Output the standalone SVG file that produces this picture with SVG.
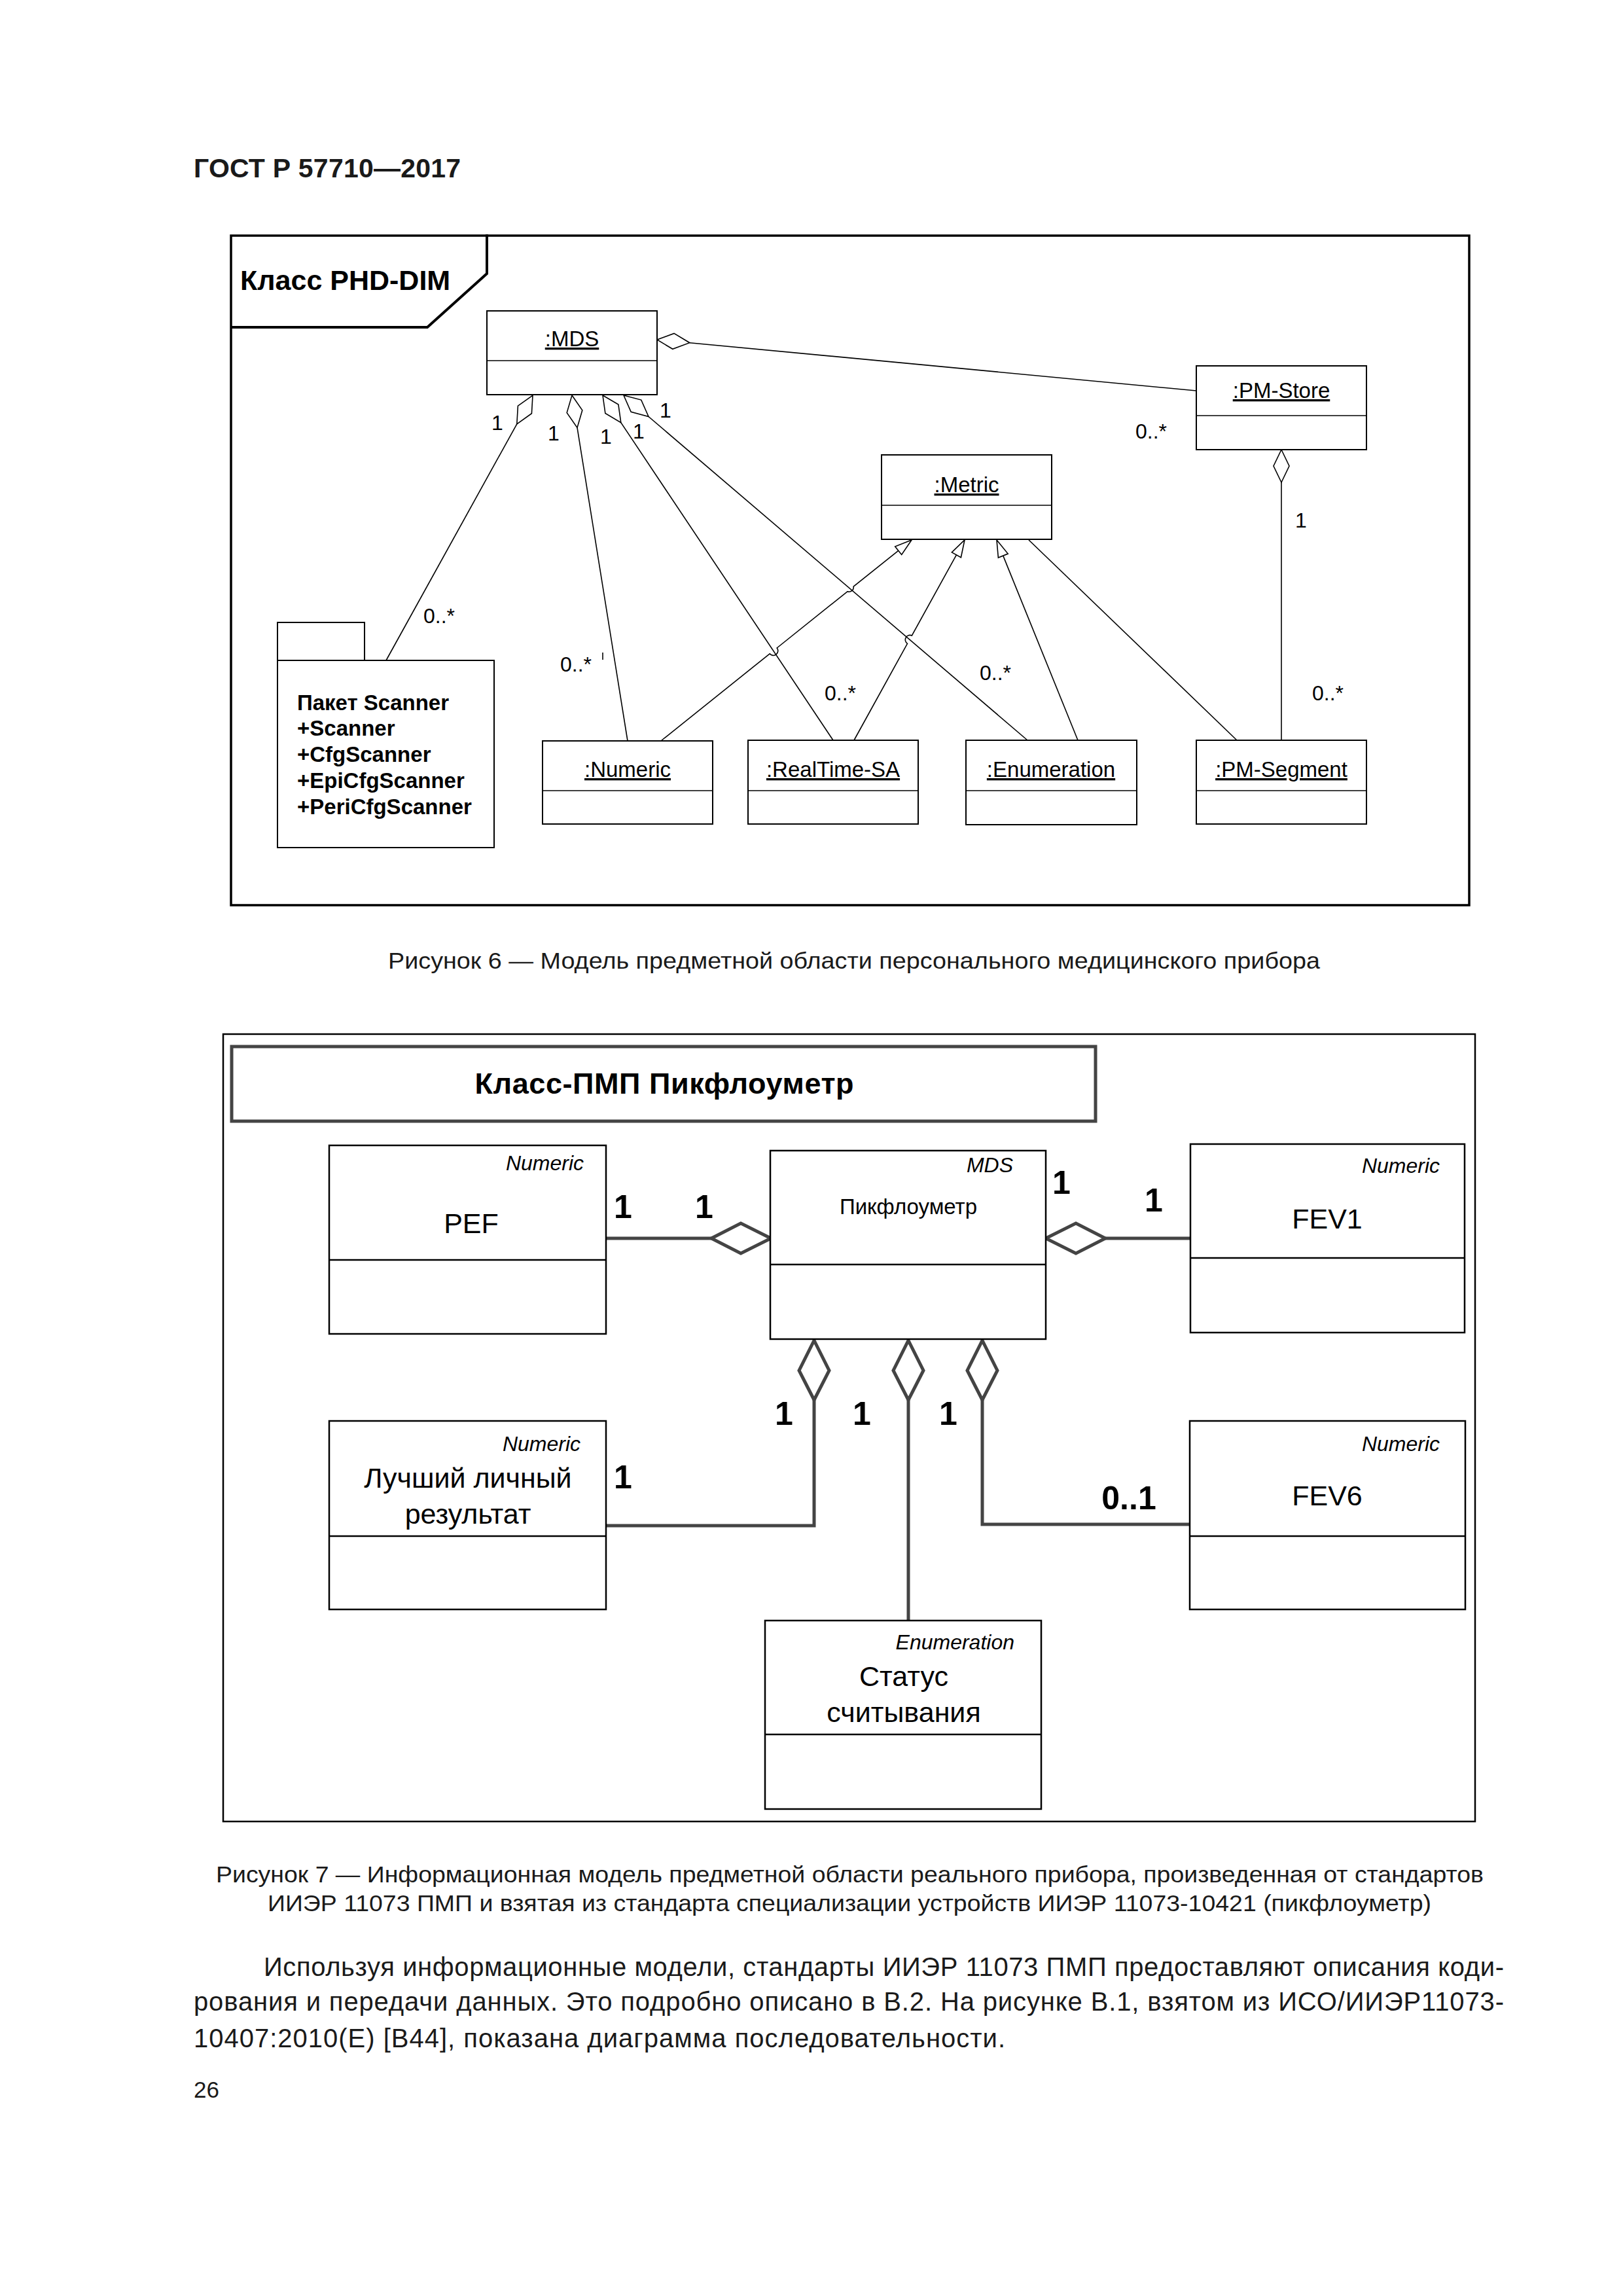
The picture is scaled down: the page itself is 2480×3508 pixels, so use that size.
<svg xmlns="http://www.w3.org/2000/svg" width="2480" height="3508" viewBox="0 0 2480 3508">
<style>
.pg{font-family:"Liberation Sans",Arial,sans-serif;fill:#1a1a1a}
.t1{font-family:"Liberation Sans",Arial,sans-serif;font-size:32px;fill:#000}
.cls{font-family:"Liberation Sans",Arial,sans-serif;font-size:33px;fill:#000;text-anchor:middle;text-decoration:underline}
.pk{font-family:"Liberation Sans",Arial,sans-serif;font-size:33px;font-weight:bold;fill:#000}
.box1{fill:#fff;stroke:#000;stroke-width:2}
.ln1{fill:none;stroke:#000;stroke-width:1.6}
.dia1{fill:#fff;stroke:#000;stroke-width:1.6}
.box2{fill:#fff;stroke:#000;stroke-width:2.5}
.ln2{fill:none;stroke:#444;stroke-width:5}
.dia2{fill:#fff;stroke:#444;stroke-width:5;stroke-linejoin:miter}
.st{font-family:"Liberation Sans",Arial,sans-serif;font-size:32px;font-style:italic;fill:#000;text-anchor:end}
.nm{font-family:"Liberation Sans",Arial,sans-serif;font-size:43px;fill:#000;text-anchor:middle}
.m2{font-family:"Liberation Sans",Arial,sans-serif;font-size:50px;font-weight:bold;fill:#000;text-anchor:middle}
</style>
<rect x="0" y="0" width="2480" height="3508" fill="#fff"/>

<!-- page texts -->
<text class="pg" x="296" y="271" font-size="41" font-weight="bold" textLength="408">ГОСТ Р 57710—2017</text>
<text class="pg" x="1305" y="1480" font-size="35" text-anchor="middle" textLength="1424" lengthAdjust="spacingAndGlyphs">Рисунок 6 — Модель предметной области персонального медицинского прибора</text>
<text class="pg" x="330" y="2876" font-size="35" textLength="1937" lengthAdjust="spacingAndGlyphs">Рисунок 7 — Информационная модель предметной области реального прибора, произведенная от стандартов</text>
<text class="pg" x="409" y="2920" font-size="35" textLength="1778" lengthAdjust="spacingAndGlyphs">ИИЭР 11073 ПМП и взятая из стандарта специализации устройств ИИЭР 11073-10421 (пикфлоуметр)</text>
<text class="pg" x="403" y="3019" font-size="40" textLength="1895">Используя информационные модели, стандарты ИИЭР 11073 ПМП предоставляют описания коди-</text>
<text class="pg" x="296" y="3072" font-size="40" textLength="2002">рования и передачи данных. Это подробно описано в В.2. На рисунке В.1, взятом из ИСО/ИИЭР11073-</text>
<text class="pg" x="296" y="3128" font-size="40" textLength="1240">10407:2010(E) [B44], показана диаграмма последовательности.</text>
<text class="pg" x="296" y="3205" font-size="35">26</text>

<!-- ===== Figure 6 ===== -->
<g id="fig6-frame">
<rect x="353" y="360" width="1892" height="1023" fill="none" stroke="#000" stroke-width="3.5"/>
<polyline points="353,500 653,500 744,418 744,358" fill="none" stroke="#000" stroke-width="4"/>
<text x="367" y="443" font-family="'Liberation Sans',Arial,sans-serif" font-size="43" font-weight="bold" fill="#000">Класс PHD-DIM</text>
</g>

<g id="fig6-connectors">
<!-- MDS - PM-Store -->
<polygon class="dia1" points="1004,519 1030,509.4 1053.8,523.7 1027.8,533.3"/>
<line class="ln1" x1="1053.8" y1="523.7" x2="1828" y2="597"/>
<!-- MDS - package -->
<polygon class="dia1" points="814,604 812.4,631.7 789.8,647.8 791.4,620.1"/>
<line class="ln1" x1="789.8" y1="647.8" x2="590" y2="1009"/>
<!-- MDS - Numeric -->
<polygon class="dia1" points="874,604 889.8,626.8 882,653.4 866.2,630.6"/>
<line class="ln1" x1="882" y1="653.4" x2="959" y2="1132"/>
<!-- MDS - RealTime-SA -->
<polygon class="dia1" points="921,604 944.9,618.1 948.8,645.6 924.9,631.5"/>
<line class="ln1" x1="948.8" y1="645.6" x2="1273" y2="1131"/>
<!-- MDS - Enumeration -->
<polygon class="dia1" points="953,604 979.8,611.1 991,636.5 964.2,629.3"/>
<line class="ln1" x1="991" y1="636.5" x2="1570" y2="1131"/>
<!-- PM-Store - PM-Segment -->
<polygon class="dia1" points="1958,687 1970,712 1958,737 1946,712"/>
<line class="ln1" x1="1958" y1="737" x2="1958" y2="1131"/>
<!-- generalizations -->
<polygon class="dia1" points="1393,825 1377.7,847.5 1367.7,835.1"/>
<path class="ln1" d="M1372.7,841.3 L1304.2,896.2 A7,7 0 0 1 1294.8,903.8 L1187.2,990.0 A7,7 0 0 1 1176.2,998.8 L1010,1132"/>
<polygon class="dia1" points="1474,825 1468.4,851.7 1454.4,843.9"/>
<path class="ln1" d="M1461.4,847.8 L1393.3,971.1 A7,7 0 0 0 1386.5,983.3 L1305,1131"/>
<polygon class="dia1" points="1523,825 1540.2,846.1 1525.4,852.1"/>
<line class="ln1" x1="1532.8" y1="849.1" x2="1647" y2="1131"/>
<line class="ln1" x1="1572" y1="825" x2="1890" y2="1131"/>
<line class="ln1" x1="921" y1="997" x2="921" y2="1008"/>
<!-- multiplicities -->
<g class="t1" text-anchor="middle">
<text x="760" y="657">1</text>
<text x="846" y="673">1</text>
<text x="926" y="678">1</text>
<text x="976" y="670">1</text>
<text x="1017" y="638">1</text>
<text x="1988" y="806">1</text>
</g>
<g class="t1">
<text x="647" y="952">0..*</text>
<text x="856" y="1026">0..*</text>
<text x="1260" y="1070">0..*</text>
<text x="1497" y="1039">0..*</text>
<text x="2005" y="1070">0..*</text>
<text x="1735" y="670">0..*</text>
</g>
</g>

<g id="n-mds1">
<rect class="box1" x="744" y="475" width="260" height="128"/>
<line class="ln1" x1="744" y1="551" x2="1004" y2="551" stroke-width="2"/>
<text class="cls" x="874" y="529">:MDS</text>
</g>
<g id="n-pmstore">
<rect class="box1" x="1828" y="559" width="260" height="128"/>
<line class="ln1" x1="1828" y1="635" x2="2088" y2="635" stroke-width="2"/>
<text class="cls" x="1958" y="608">:PM-Store</text>
</g>
<g id="n-metric">
<rect class="box1" x="1347" y="695" width="260" height="129"/>
<line class="ln1" x1="1347" y1="772" x2="1607" y2="772" stroke-width="2"/>
<text class="cls" x="1477" y="752">:Metric</text>
</g>
<g id="n-package">
<rect class="box1" x="424" y="951" width="133" height="58"/>
<rect class="box1" x="424" y="1009" width="331" height="286"/>
<text class="pk" x="454" y="1085">Пакет Scanner</text>
<text class="pk" x="454" y="1124">+Scanner</text>
<text class="pk" x="454" y="1164">+CfgScanner</text>
<text class="pk" x="454" y="1204">+EpiCfgScanner</text>
<text class="pk" x="454" y="1244">+PeriCfgScanner</text>
</g>
<g id="n-numeric1">
<rect class="box1" x="829" y="1132" width="260" height="127"/>
<line class="ln1" x1="829" y1="1208" x2="1089" y2="1208" stroke-width="2"/>
<text class="cls" x="959" y="1187">:Numeric</text>
</g>
<g id="n-realtime">
<rect class="box1" x="1143" y="1131" width="260" height="128"/>
<line class="ln1" x1="1143" y1="1208" x2="1403" y2="1208" stroke-width="2"/>
<text class="cls" x="1273" y="1187">:RealTime-SA</text>
</g>
<g id="n-enum1">
<rect class="box1" x="1476" y="1131" width="261" height="129"/>
<line class="ln1" x1="1476" y1="1208" x2="1737" y2="1208" stroke-width="2"/>
<text class="cls" x="1606" y="1187">:Enumeration</text>
</g>
<g id="n-pmsegment">
<rect class="box1" x="1828" y="1131" width="260" height="128"/>
<line class="ln1" x1="1828" y1="1208" x2="2088" y2="1208" stroke-width="2"/>
<text class="cls" x="1958" y="1187">:PM-Segment</text>
</g>

<!-- ===== Figure 7 ===== -->
<g id="fig7-frame">
<rect x="341" y="1580" width="1913" height="1203" fill="none" stroke="#000" stroke-width="2.5"/>
<rect x="354" y="1599" width="1320" height="114" fill="none" stroke="#444" stroke-width="5"/>
<text x="1015" y="1671" font-family="'Liberation Sans',Arial,sans-serif" font-size="45" font-weight="bold" fill="#000" text-anchor="middle" textLength="579">Класс-ПМП Пикфлоуметр</text>
</g>

<g id="fig7-connectors">
<line class="ln2" x1="926" y1="1892" x2="1087" y2="1892"/>
<polygon class="dia2" points="1087,1892 1132,1869 1178,1892 1132,1915"/>
<polygon class="dia2" points="1598,1892 1644,1869 1689,1892 1644,1915"/>
<line class="ln2" x1="1689" y1="1892" x2="1819" y2="1892"/>
<polygon class="dia2" points="1244,2048 1267,2094 1244,2139 1221,2094"/>
<polyline class="ln2" points="1244,2139 1244,2331 926,2331"/>
<polygon class="dia2" points="1388,2048 1411,2094 1388,2139 1365,2094"/>
<line class="ln2" x1="1388" y1="2139" x2="1388" y2="2476"/>
<polygon class="dia2" points="1501,2048 1524,2094 1501,2139 1478,2094"/>
<polyline class="ln2" points="1501,2139 1501,2329 1819,2329"/>
<text class="m2" x="952" y="1861">1</text>
<text class="m2" x="1076" y="1861">1</text>
<text class="m2" x="1622" y="1824">1</text>
<text class="m2" x="1763" y="1851">1</text>
<text class="m2" x="1198" y="2177">1</text>
<text class="m2" x="1317" y="2177">1</text>
<text class="m2" x="1449" y="2177">1</text>
<text class="m2" x="952" y="2274">1</text>
<text class="m2" x="1725" y="2306">0..1</text>
</g>

<g id="n-pef">
<rect class="box2" x="503" y="1750" width="423" height="288"/>
<line x1="503" y1="1925" x2="926" y2="1925" stroke="#000" stroke-width="2.5"/>
<text class="st" x="892" y="1788">Numeric</text>
<text class="nm" x="720" y="1884">PEF</text>
</g>
<g id="n-mds2">
<rect class="box2" x="1177" y="1758" width="421" height="288"/>
<line x1="1177" y1="1932" x2="1598" y2="1932" stroke="#000" stroke-width="2.5"/>
<text class="st" x="1548" y="1791">MDS</text>
<text x="1388" y="1855" font-family="'Liberation Sans',Arial,sans-serif" font-size="33" fill="#000" text-anchor="middle">Пикфлоуметр</text>
</g>
<g id="n-fev1">
<rect class="box2" x="1819" y="1748" width="419" height="288"/>
<line x1="1819" y1="1922" x2="2238" y2="1922" stroke="#000" stroke-width="2.5"/>
<text class="st" x="2200" y="1792">Numeric</text>
<text class="nm" x="2028" y="1877">FEV1</text>
</g>
<g id="n-best">
<rect class="box2" x="503" y="2171" width="423" height="288"/>
<line x1="503" y1="2347" x2="926" y2="2347" stroke="#000" stroke-width="2.5"/>
<text class="st" x="887" y="2217">Numeric</text>
<text class="nm" x="715" y="2273">Лучший личный</text>
<text class="nm" x="715" y="2328">результат</text>
</g>
<g id="n-status">
<rect class="box2" x="1169" y="2476" width="422" height="288"/>
<line x1="1169" y1="2650" x2="1591" y2="2650" stroke="#000" stroke-width="2.5"/>
<text class="st" x="1550" y="2520">Enumeration</text>
<text class="nm" x="1381" y="2576">Статус</text>
<text class="nm" x="1381" y="2631">считывания</text>
</g>
<g id="n-fev6">
<rect class="box2" x="1818" y="2171" width="421" height="288"/>
<line x1="1818" y1="2347" x2="2239" y2="2347" stroke="#000" stroke-width="2.5"/>
<text class="st" x="2200" y="2217">Numeric</text>
<text class="nm" x="2028" y="2300">FEV6</text>
</g>
</svg>
